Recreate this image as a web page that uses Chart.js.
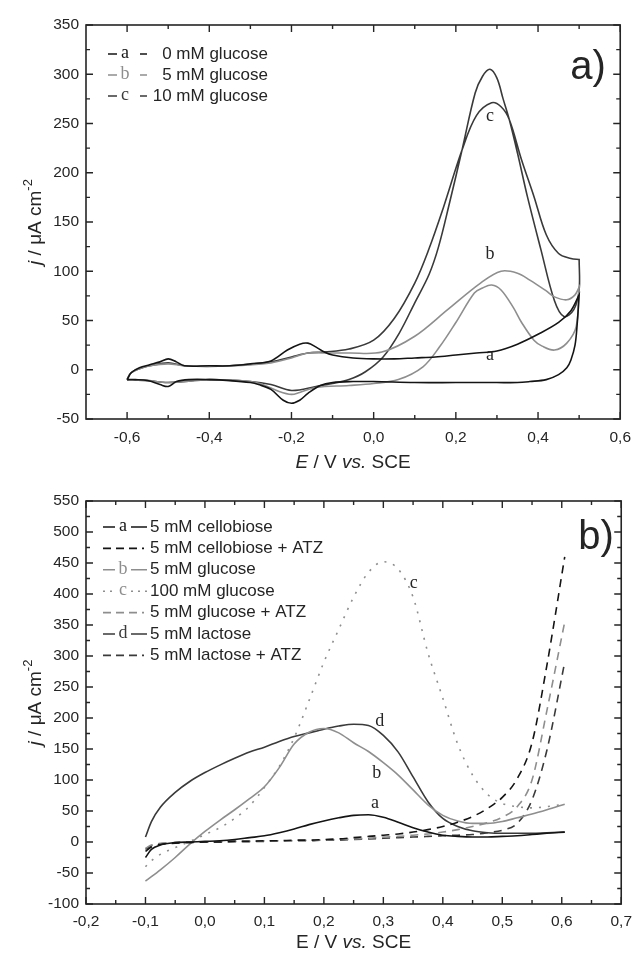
<!DOCTYPE html>
<html>
<head>
<meta charset="utf-8">
<script src="https://cdn.jsdelivr.net/npm/chart.js@4.4.0/dist/chart.umd.min.js"></script>
<style>
body { margin: 0; background: #fff; }
canvas { display: block; }
</style>
</head>
<body>
<canvas id="chartA" width="640" height="480"></canvas>
<canvas id="chartB" width="640" height="480"></canvas>
<script>
// ---- panel a) : CVs in 0 / 5 / 10 mM glucose (forward scan then reverse scan) ----
const potA0 = [-0.6,-0.59,-0.57,-0.545,-0.52,-0.5,-0.48,-0.46,-0.4,-0.35,-0.3,-0.25,-0.21,-0.18,-0.16,-0.14,-0.12,-0.1,-0.05,0,0.05,0.1,0.15,0.2,0.25,0.3,0.35,0.4,0.45,0.48,0.5,
  0.5,0.495,0.49,0.48,0.47,0.45,0.42,0.38,0.35,0.3,0.2,0.1,0,-0.05,-0.1,-0.13,-0.16,-0.18,-0.2,-0.22,-0.25,-0.28,-0.3,-0.35,-0.4,-0.45,-0.48,-0.5,-0.52,-0.55,-0.58,-0.6];
const curA0 = [-10,-3,2,5,8,11,8,4,4,4,6,9,20,26,27,23,18,15,12,11,11,12,13,15,17,19,26,36,48,60,76,
  76,45,25,10,2,-5,-10,-12,-13,-13,-13,-13,-12,-12,-13,-16,-24,-31,-34,-31,-20,-15,-13,-11,-10,-10,-12,-17,-15,-11,-10,-10];

const potA5 = [-0.6,-0.59,-0.57,-0.545,-0.5,-0.46,-0.35,-0.25,-0.2,-0.16,-0.12,-0.06,0.02,0.1,0.18,0.26,0.31,0.35,0.38,0.42,0.44,0.47,0.49,0.5,
  0.5,0.493,0.47,0.44,0.41,0.39,0.36,0.34,0.31,0.287,0.265,0.245,0.2,0.16,0.12,0.06,0,-0.06,-0.14,-0.18,-0.2,-0.23,-0.27,-0.3,-0.4,-0.5,-0.55,-0.6];
const curA5 = [-10,-3,1,4,6,4,4,7,12,17,17,17,18,34,61,88,100,98,91,80,74,71,76,84,
  84,44,27,20,24,30,48,63,81,86,83,78,48,23,3,-10,-14,-16,-18,-23,-25,-22,-15,-12,-10,-13,-11,-10];

const potA10 = [-0.6,-0.59,-0.57,-0.545,-0.5,-0.46,-0.35,-0.25,-0.2,-0.16,-0.12,-0.06,0,0.05,0.1,0.134,0.17,0.215,0.25,0.287,0.31,0.33,0.36,0.39,0.42,0.45,0.48,0.5,
  0.5,0.5,0.487,0.463,0.44,0.407,0.374,0.35,0.33,0.315,0.3,0.283,0.265,0.247,0.215,0.185,0.158,0.135,0.1,0.062,0.023,-0.02,-0.06,-0.1,-0.14,-0.2,-0.25,-0.3,-0.4,-0.5,-0.55,-0.6];
const curA10 = [-10,-3,1,4,7,4,4,8,13,17,18,21,30,52,88,122,165,223,258,271,267,254,213,176,137,118,113,112,
  112,81,61,54,70,122,176,220,254,275,296,305,298,281,223,170,125,97,68,37,13,-2,-10,-14,-17,-21,-15,-12,-10,-13,-11,-10];

const xTicksA = [-0.6,-0.4,-0.2,0,0.2,0.4,0.6];
const yTicksA = [-50,0,50,100,150,200,250,300,350];

// ---- panel b) : anodic sweeps, sugars with and without ATZ ----
const potB = [-0.1,-0.09,-0.075,-0.05,-0.025,0,0.025,0.05,0.075,0.1,0.125,0.15,0.175,0.2,0.225,0.25,0.275,0.3,0.325,0.35,0.375,0.4,0.425,0.45,0.475,0.5,0.525,0.55,0.575,0.605];
const cellobiose    = [-25,-12,-5,-1,0,1,2,4,7,10,15,21,28,34,39,43,44,40,32,23,16,11,9,8,8,9,10,12,14,16];
const cellobioseATZ = [-15,-8,-4,-2,-1,0,0,1,1,2,2,3,3,4,5,7,9,11,13,16,20,25,32,41,54,72,102,160,285,460];
const glucose5      = [-63,-56,-45,-25,-3,17,35,52,70,89,120,158,177,183,176,160,146,128,108,84,60,43,34,30,30,33,39,45,52,61];
const glucose100    = [-40,-30,-20,-9,1,12,23,38,58,88,122,168,228,290,343,395,435,452,440,395,305,232,158,108,77,62,57,55,57,61];
const glucoseATZ    = [-10,-5,-2,-1,0,0,1,1,1,2,2,2,3,3,4,5,6,8,9,11,13,16,20,25,31,40,57,100,212,355];
const lactose       = [8,33,56,80,98,112,124,135,145,153,162,170,176,182,187,190,188,172,145,105,65,38,25,18,15,14,14,14,15,16];
const lactoseATZ    = [-12,-6,-3,-1,0,0,0,1,1,1,2,2,2,3,3,4,5,6,7,8,9,10,11,12,15,19,30,68,148,290];

const xTicksB = [-0.2,-0.1,0,0.1,0.2,0.3,0.4,0.5,0.6,0.7];
const yTicksB = [-100,-50,0,50,100,150,200,250,300,350,400,450,500,550];

const ink = '#252525';
const sans = '"Liberation Sans", Arial, sans-serif';
const serif = '"Liberation Serif", "Times New Roman", serif';
const black = '#141414', grey = '#8e8e8e', dark = '#3a3a3a';

const pts = (xs, ys) => xs.map((v, i) => ({ x: v, y: ys[i] }));
const comma = v => v.toFixed(1).replace('.', ',');

function axis(min, max, ticks, fmt, isX, size, pad) {
  return {
    type: 'linear', min: min, max: max,
    afterBuildTicks: s => { s.ticks = ticks.map(v => ({ value: v })); },
    afterFit: s => { if (isX) s.height = size; else s.width = size; },
    grid: { display: false, drawTicks: false },
    border: { display: false },
    ticks: { callback: fmt, color: ink, font: { family: sans, size: 15.5 }, padding: pad, autoSkip: false, maxRotation: 0 }
  };
}

// pieces of text: [string, style], drawn one after another
function drawPieces(ctx, pieces, size, cx, cy) {
  const fontOf = p => (p[1] === 'i' ? 'italic ' : '') + (p[1] === 'sup' ? Math.round(size * 0.68) : size) + 'px ' + sans;
  let w = 0;
  pieces.forEach(p => { ctx.font = fontOf(p); w += ctx.measureText(p[0]).width; });
  let x = cx - w / 2;
  ctx.textAlign = 'left';
  ctx.textBaseline = 'middle';
  pieces.forEach(p => {
    ctx.font = fontOf(p);
    ctx.fillText(p[0], x, p[1] === 'sup' ? cy - size * 0.42 : cy);
    x += ctx.measureText(p[0]).width;
  });
}

function decor(d) {
  return {
    id: 'decor',
    afterDraw(chart) {
      const { ctx, chartArea: a, scales: { x, y } } = chart;
      ctx.save();
      ctx.strokeStyle = ink;
      ctx.fillStyle = ink;
      ctx.setLineDash([]);
      ctx.lineWidth = 1.6;
      ctx.strokeRect(a.left, a.top, a.right - a.left, a.bottom - a.top);

      // inward ticks on all four sides, minor ones half way
      const mids = t => t.slice(1).map((v, i) => (v + t[i]) / 2);
      ctx.lineWidth = 1.4;
      ctx.beginPath();
      [[d.xTicks, 7], [mids(d.xTicks), 4]].forEach(([vals, len]) => vals.forEach(v => {
        const px = x.getPixelForValue(v);
        ctx.moveTo(px, a.bottom); ctx.lineTo(px, a.bottom - len);
        ctx.moveTo(px, a.top); ctx.lineTo(px, a.top + len);
      }));
      [[d.yTicks, 7], [mids(d.yTicks), 4]].forEach(([vals, len]) => vals.forEach(v => {
        const py = y.getPixelForValue(v);
        ctx.moveTo(a.left, py); ctx.lineTo(a.left + len, py);
        ctx.moveTo(a.right, py); ctx.lineTo(a.right - len, py);
      }));
      ctx.stroke();

      // axis titles
      drawPieces(ctx, d.xTitle, 19, (a.left + a.right) / 2, a.bottom + d.xTitleGap);
      ctx.save();
      ctx.translate(36, (a.top + a.bottom) / 2);
      ctx.rotate(-Math.PI / 2);
      drawPieces(ctx, [['j', 'i'], [' / \u03bcA cm', 'n'], ['-2', 'sup']], 19, 0, 0);
      ctx.restore();

      // panel letter
      ctx.font = '40px ' + sans;
      ctx.textAlign = 'left';
      ctx.textBaseline = 'alphabetic';
      ctx.fillText(d.panel, a.right - d.panelDx, a.top + d.panelDy);

      // curve letters, placed at data coordinates
      ctx.font = '18px ' + serif;
      ctx.textAlign = 'center';
      ctx.textBaseline = 'middle';
      d.curveLabels.forEach(l => ctx.fillText(l.t, x.getPixelForValue(l.x), y.getPixelForValue(l.y)));

      // legend
      d.legend.forEach((e, i) => {
        const ry = a.top + d.legTop + i * d.legStep;
        ctx.strokeStyle = e.color;
        ctx.lineWidth = 1.6;
        ctx.setLineDash(e.dash || []);
        ctx.beginPath();
        if (e.letter) {
          d.legSegs.forEach(s => { ctx.moveTo(s[0], ry); ctx.lineTo(s[1], ry); });
        } else {
          ctx.moveTo(d.legSegs[0][0], ry); ctx.lineTo(d.legSegs[1][1] - 3, ry);
        }
        ctx.stroke();
        ctx.setLineDash([]);
        if (e.letter) {
          ctx.fillStyle = e.color;
          ctx.font = '18px ' + serif;
          ctx.textAlign = 'center';
          ctx.textBaseline = 'middle';
          ctx.fillText(e.letter, d.legLetterX, ry - 1);
        }
        ctx.fillStyle = ink;
        ctx.font = '17px ' + sans;
        ctx.textAlign = d.legAlign;
        ctx.textBaseline = 'middle';
        ctx.fillText(e.text, d.legTextX, ry);
      });
      ctx.restore();
    }
  };
}

const line = (label, data, color, extra) => Object.assign({
  label: label, data: data, borderColor: color, borderWidth: 1.6,
  showLine: true, pointRadius: 0, fill: false
}, extra || {});

new Chart(document.getElementById('chartA'), {
  type: 'scatter',
  data: {
    datasets: [
      line('0 mM glucose', pts(potA0, curA0), black, { tension: 0.35 }),
      line('5 mM glucose', pts(potA5, curA5), grey, { tension: 0.35 }),
      line('10 mM glucose', pts(potA10, curA10), dark, { tension: 0.35 })
    ]
  },
  options: {
    responsive: false, animation: false,
    layout: { padding: { left: 0, right: 13, top: 25, bottom: 0 } },
    plugins: { legend: { display: false }, tooltip: { enabled: false } },
    scales: {
      x: axis(-0.7, 0.6, xTicksA, comma, true, 61, 9),
      y: axis(-50, 350, yTicksA, v => String(v), false, 86, 7)
    }
  },
  plugins: [decor({
    xTicks: xTicksA, yTicks: yTicksA,
    xTitle: [['E', 'i'], [' / V ', 'n'], ['vs.', 'i'], [' SCE', 'n']], xTitleGap: 44,
    panel: 'a)', panelDx: 50, panelDy: 54,
    curveLabels: [{ t: 'c', x: 0.283, y: 257 }, { t: 'b', x: 0.283, y: 117 }, { t: 'a', x: 0.283, y: 15 }],
    legend: [
      { letter: 'a', text: '0 mM glucose', color: black },
      { letter: 'b', text: '5 mM glucose', color: grey },
      { letter: 'c', text: '10 mM glucose', color: dark }
    ],
    legTop: 29, legStep: 21, legSegs: [[108, 117], [140, 147]], legLetterX: 125, legTextX: 268, legAlign: 'right'
  })]
});

new Chart(document.getElementById('chartB'), {
  type: 'scatter',
  data: {
    datasets: [
      line('5 mM cellobiose', pts(potB, cellobiose), black, { cubicInterpolationMode: 'monotone' }),
      line('5 mM cellobiose + ATZ', pts(potB, cellobioseATZ), black, { cubicInterpolationMode: 'monotone', borderDash: [8, 6] }),
      line('5 mM glucose', pts(potB, glucose5), grey, { cubicInterpolationMode: 'monotone' }),
      line('100 mM glucose', pts(potB, glucose100), grey, { cubicInterpolationMode: 'monotone', borderDash: [2, 7] }),
      line('5 mM glucose + ATZ', pts(potB, glucoseATZ), grey, { cubicInterpolationMode: 'monotone', borderDash: [8, 6] }),
      line('5 mM lactose', pts(potB, lactose), dark, { cubicInterpolationMode: 'monotone' }),
      line('5 mM lactose + ATZ', pts(potB, lactoseATZ), dark, { cubicInterpolationMode: 'monotone', borderDash: [8, 6] })
    ]
  },
  options: {
    responsive: false, animation: false,
    layout: { padding: { left: 0, right: 11, top: 21, bottom: 0 } },
    plugins: { legend: { display: false }, tooltip: { enabled: false } },
    scales: {
      x: axis(-0.2, 0.7, xTicksB, comma, true, 56, 8),
      y: axis(-100, 550, yTicksB, v => String(v), false, 86, 7)
    }
  },
  plugins: [decor({
    xTicks: xTicksB, yTicks: yTicksB,
    xTitle: [['E / V ', 'n'], ['vs.', 'i'], [' SCE', 'n']], xTitleGap: 39,
    panel: 'b)', panelDx: 43, panelDy: 48,
    curveLabels: [{ t: 'c', x: 0.351, y: 418 }, { t: 'd', x: 0.294, y: 194 }, { t: 'b', x: 0.289, y: 111 }, { t: 'a', x: 0.286, y: 63 }],
    legend: [
      { letter: 'a', text: '5 mM cellobiose', color: black },
      { text: '5 mM cellobiose + ATZ', color: black, dash: [8, 5] },
      { letter: 'b', text: '5 mM glucose', color: grey },
      { letter: 'c', text: '100 mM glucose', color: grey, dash: [2, 5] },
      { text: '5 mM glucose + ATZ', color: grey, dash: [8, 5] },
      { letter: 'd', text: '5 mM lactose', color: dark },
      { text: '5 mM lactose + ATZ', color: dark, dash: [8, 5] }
    ],
    legTop: 26, legStep: 21.4, legSegs: [[103, 115], [131, 147]], legLetterX: 123, legTextX: 150, legAlign: 'left'
  })]
});
</script>
</body>
</html>
